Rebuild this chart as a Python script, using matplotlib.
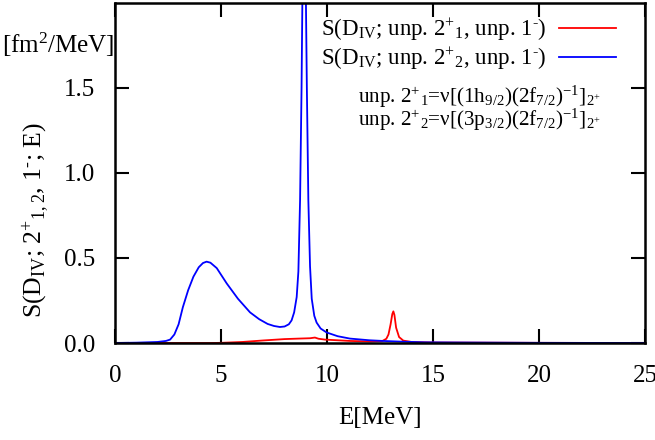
import matplotlib
matplotlib.use("Agg")
import matplotlib.pyplot as plt

plt.rcParams['font.family'] = ['Liberation Serif', 'DejaVu Serif']
plt.rcParams['mathtext.fontset'] = 'custom'
plt.rcParams['mathtext.rm'] = 'Liberation Serif'
plt.rcParams['mathtext.it'] = 'Liberation Serif:italic'
plt.rcParams['mathtext.bf'] = 'Liberation Serif:bold'

# Blue: S(D_IV; unp. 2+_2, unp. 1-)
e_blue = [0.0, 1.0, 2.0, 2.4, 2.6, 2.8, 3.0, 3.2, 3.45, 3.7, 3.95, 4.15, 4.32, 4.5, 4.8,
          5.27, 5.8, 6.37, 6.8, 7.2, 7.5, 7.78, 8.0, 8.2, 8.33, 8.45, 8.57, 8.65, 8.73,
          8.8, 8.86, 8.92, 8.98, 9.05, 9.12, 9.2, 9.28, 9.4, 9.51, 9.7, 9.98, 10.5,
          11.08, 12.0, 12.65, 13.5, 14.6, 16.0, 18.0, 20.0, 25.0]
s_blue = [0.0, 0.002, 0.006, 0.012, 0.02, 0.05, 0.11, 0.21, 0.31, 0.39, 0.445, 0.47, 0.478,
          0.472, 0.44, 0.35, 0.26, 0.18, 0.14, 0.112, 0.1, 0.094, 0.097, 0.11, 0.133,
          0.18, 0.27, 0.42, 0.84, 1.5, 2.3, 3.2, 2.3, 1.5, 0.84, 0.45, 0.26, 0.16, 0.12,
          0.085, 0.062, 0.04, 0.026, 0.016, 0.012, 0.008, 0.004, 0.003, 0.002, 0.001, 0.0]

# Red: S(D_IV; unp. 2+_1, unp. 1-)
e_red = [0.0, 4.5, 5.0, 6.0, 7.0, 8.0, 8.7, 9.2, 9.43, 9.6, 9.9, 10.5, 11.08, 12.0, 12.6,
         12.8, 12.9, 13.0, 13.08, 13.13, 13.18, 13.26, 13.4, 13.6, 14.0, 15.0, 20.0, 25.0]
s_red = [0.0, 0.0, 0.001, 0.006, 0.015, 0.023, 0.026, 0.028, 0.032, 0.025, 0.02, 0.016,
         0.012, 0.009, 0.011, 0.025, 0.05, 0.11, 0.17, 0.186, 0.165, 0.09, 0.035, 0.014,
         0.006, 0.003, 0.001, 0.0]

x_ticks = [0, 5, 10, 15, 20, 25]
y_ticks = [0.0, 0.5, 1.0, 1.5]
y_ticklabels = ["0.0", "0.5", "1.0", "1.5"]

W, H = 655, 440
fig = plt.figure(figsize=(W / 100, H / 100), dpi=100)
ax = fig.add_axes([115 / W, (H - 343) / H, (645 - 115) / W, (343 - 3) / H])

MINUS = r"$^{\text{-}}$"
l1, = ax.plot(e_red, s_red, color='#ff0000', lw=1.3,
              label=r"S(D$_{\mathrm{IV}}$; unp. 2$^{+}{}_{1}$, unp. 1" + MINUS + ")")
l2, = ax.plot(e_blue, s_blue, color='#0000ff', lw=1.3,
              label=r"S(D$_{\mathrm{IV}}$; unp. 2$^{+}{}_{2}$, unp. 1" + MINUS + ")")

ax.set_xlim(0, 25)
ax.set_ylim(0, 1.998)
ax.set_xticks(x_ticks)
ax.set_xticklabels([str(v) for v in x_ticks])
ax.set_yticks(y_ticks)
ax.set_yticklabels(y_ticklabels)
ax.tick_params(direction='in', length=10, width=1.5, top=True, right=True,
               labelsize=18, colors='black')
ax.tick_params(axis='x', pad=16)
ax.tick_params(axis='y', pad=14)
for s in ax.spines.values():
    s.set_linewidth(1.8)

ax.set_xlabel("E[MeV]", fontsize=18, labelpad=14)
fig.text(36 / W, 1 - 220 / H,
         r"S(D$_{\mathrm{IV}}$; 2$^{+}{}_{1,2}$, 1" + MINUS + "; E)",
         rotation=90, ha='center', va='center', fontsize=18.5)
fig.text(58 / W, 1 - 45 / H, r"[fm$^2$/MeV]", ha='center', va='center', fontsize=18)

leg = ax.legend(handles=[l1, l2], loc='upper right', frameon=False, fontsize=16.5,
                markerfirst=False, handlelength=2.5, handletextpad=0.52,
                labelspacing=0.12, borderaxespad=0.2, bbox_to_anchor=(0.971, 1.0))

ax.text(601 / W, 1 - 97 / H,
        r"unp. 2$^{+}{}_{1}$=ν[(1h$_{9/2}$)(2f$_{7/2}$)$^{-1}$]$_{2^{+}}$",
        transform=fig.transFigure, ha='right', va='center', fontsize=15.2)
ax.text(601 / W, 1 - 120 / H,
        r"unp. 2$^{+}{}_{2}$=ν[(3p$_{3/2}$)(2f$_{7/2}$)$^{-1}$]$_{2^{+}}$",
        transform=fig.transFigure, ha='right', va='center', fontsize=15.2)

fig.savefig("out.png", dpi=100)
